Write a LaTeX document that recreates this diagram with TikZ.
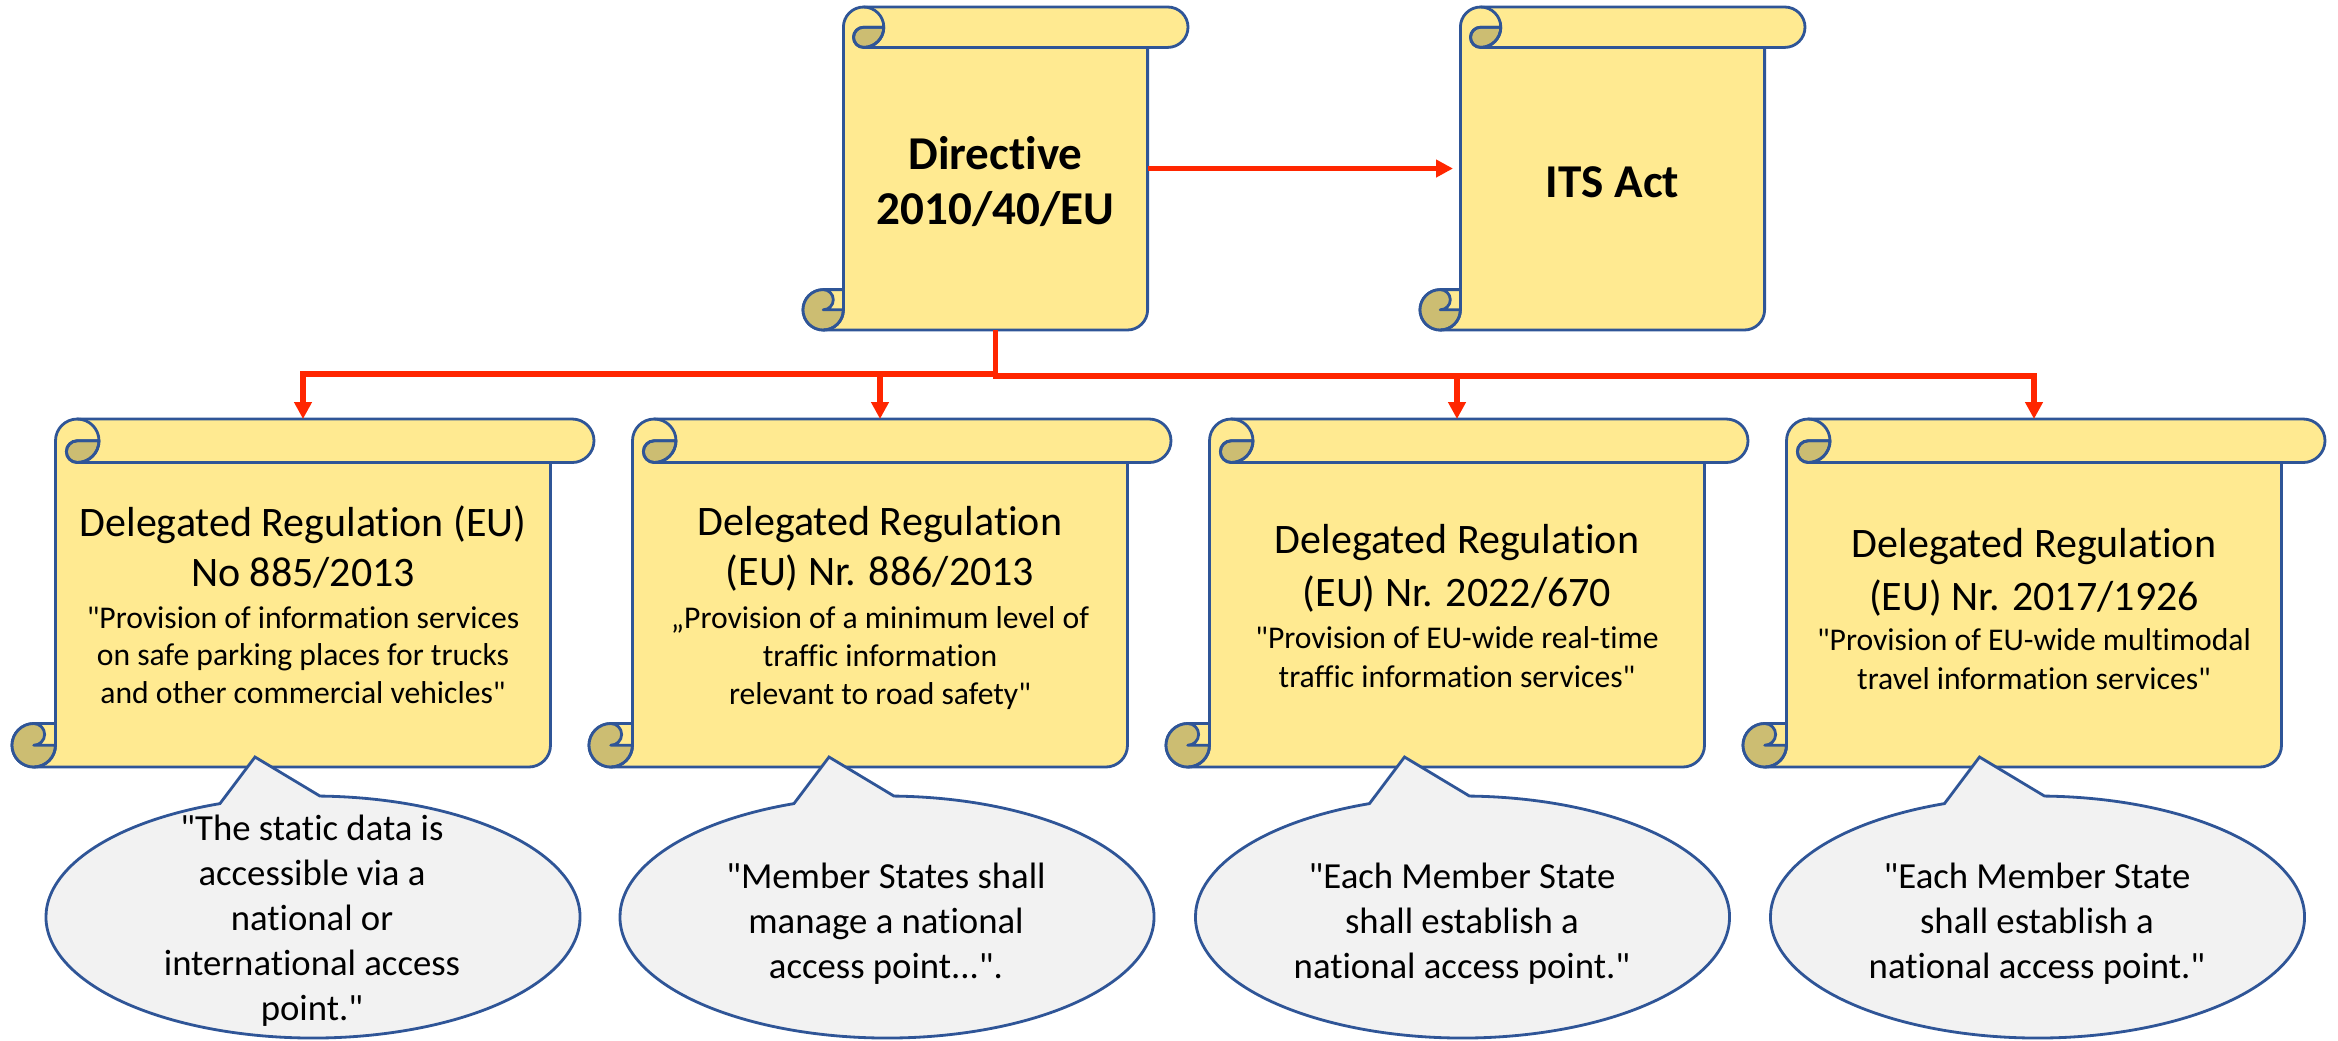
\documentclass[tikz,border=0pt]{standalone}
\usepackage{fontspec}
\newfontfamily\cf{Carlito}[Ligatures=NoCommon]
\usetikzlibrary{arrows.meta,calc}
\definecolor{scrollfill}{RGB}{255,234,145}
\definecolor{curlfill}{RGB}{204,189,114}
\definecolor{edgeblue}{RGB}{47,85,151}
\definecolor{calloutfill}{RGB}{242,242,242}
\definecolor{arrowred}{RGB}{255,38,0}

\tikzset{
  scrollbody/.style={fill=scrollfill, draw=edgeblue, line width=0.8pt, line join=round},
  scrollcurl/.style={fill=curlfill, draw=edgeblue, line width=0.8pt, line join=round},
  scrollline/.style={draw=edgeblue, line width=0.8pt, line cap=round},
  scrollnode/.style={inner sep=0pt, outer sep=0pt},
  bigtitle/.style={font=\cf\bfseries\fontsize{13.4}{15.6}\selectfont, align=center, inner sep=0pt},
  regtitle/.style={font=\cf\fontsize{11.95}{14.2}\selectfont, align=center, inner sep=0pt},
  regtitleb/.style={font=\cf\fontsize{11.95}{15.0}\selectfont, align=center, inner sep=0pt},
  regquote/.style={font=\cf\fontsize{9}{10.7}\selectfont, align=center, inner sep=0pt},
  regquoteb/.style={font=\cf\fontsize{9}{11.1}\selectfont, align=center, inner sep=0pt},
  bubbletext/.style={font=\cf\fontsize{10.45}{12.8}\selectfont, align=center, inner sep=0pt},
  bubble/.style={fill=calloutfill, draw=edgeblue, line width=0.8pt, line join=miter},
  conn/.style={draw=arrowred, line width=1.5pt, -{Triangle[length=1.7mm, width=1.7mm]}},
}

% name, X0, Y0, W, H, c   (pixel coordinates, y downwards)
\newcommand\drawscroll[6]{%
  \pgfmathsetmacro\scXh{#2+#6/2}%
  \pgfmathsetmacro\scXc{#2+#6}%
  \pgfmathsetmacro\scXch{#2+1.5*#6}%
  \pgfmathsetmacro\scXcc{#2+2*#6}%
  \pgfmathsetmacro\scXrh{#2+#4-#6/2}%
  \pgfmathsetmacro\scXrc{#2+#4-#6}%
  \pgfmathsetmacro\scYt{#3}%
  \pgfmathsetmacro\scYh{#3+#6/2}%
  \pgfmathsetmacro\scYc{#3+#6}%
  \pgfmathsetmacro\scYB{#3+#5}%
  \pgfmathsetmacro\scYBh{#3+#5-#6/2}%
  \pgfmathsetmacro\scYBc{#3+#5-#6}%
  \pgfmathsetmacro\scHr{#6/20}%
  \pgfmathsetmacro\scQr{#6/40}%
  \filldraw[scrollbody] (\scXc,\scYBc) -- (\scXc,\scYh)
     arc[start angle=180,end angle=90,radius=\scHr mm] -- (\scXrh,\scYt)
     arc[start angle=90,end angle=-90,radius=\scHr mm] -- (\scXrc,\scYc) -- (\scXrc,\scYBh)
     arc[start angle=0,end angle=-90,radius=\scHr mm] -- (\scXh,\scYB)
     arc[start angle=-90,end angle=-270,radius=\scHr mm] -- cycle;
  \filldraw[scrollcurl] (\scXcc,\scYh) arc[start angle=0,end angle=-90,radius=\scHr mm]
     arc[start angle=-90,end angle=-270,radius=\scQr mm] -- cycle;
  \filldraw[scrollcurl] (\scXc,\scYBh) arc[start angle=0,end angle=-270,radius=\scHr mm]
     arc[start angle=90,end angle=-90,radius=\scQr mm] -- cycle;
  \draw[scrollline] (\scXch,\scYt) arc[start angle=90,end angle=-90,radius=\scHr mm]
     arc[start angle=-90,end angle=-270,radius=\scQr mm] -- (\scXcc,\scYh);
  \draw[scrollline] (\scXrc,\scYc) -- (\scXch,\scYc);
  \draw[scrollline] (\scXh,\scYB) arc[start angle=-90,end angle=0,radius=\scHr mm] -- (\scXc,\scYBc);
  \node[scrollnode, minimum width=#4*0.1mm, minimum height=#5*0.1mm] (#1) at (#2+#4/2, #3+#5/2) {};
}

% centre x, centre y of the ellipse
\newcommand\drawbubble[2]{%
  \filldraw[bubble] (#1-93.05,#2-113.4)
     arc[start angle=110.4,end angle=448.5,x radius=26.7mm,y radius=12.1mm]
     -- (#1-58,#2-160) -- cycle;
}

\begin{document}
\begin{tikzpicture}[x=0.1mm, y=-0.1mm]
\useasboundingbox (0,0) rectangle (2338,1040);
\fill[white] (0,0) rectangle (2338,1040);

% scrolls
\drawscroll{dir}{803}{7}{385}{323}{40.4}
\drawscroll{its}{1420}{7}{385}{323}{40.4}
\drawscroll{r1}{12}{419}{582}{348}{43.5}
\drawscroll{r2}{589}{419}{582}{348}{43.5}
\drawscroll{r3}{1166}{419}{582}{348}{43.5}
\drawscroll{r4}{1743}{419}{582}{348}{43.5}

% scroll texts
\node[bigtitle] (dirtext) at (995.5,181.5) {Directive\\2010/40/EU};
\node[bigtitle] (itstext) at (1612.5,182) {ITS Act};

\node[regtitle] (r1title) at (303,547) {Delegated Regulation (EU)\\No 885/2013};
\node[regquote] (r1quote) at (303,655) {"Provision of information services\\on safe parking places for trucks\\and other commercial vehicles"};

\node[regtitle] (r2title) at (880,549) {Delegated Regulation\\(EU) Nr. 886/2013};
\node[regquote] (r2quote) at (880,658) {„Provision of a minimum level of\\traffic information\\relevant to road safety"};

\node[regtitleb] (r3title) at (1457,568) {Delegated Regulation\\(EU) Nr. 2022/670};
\node[regquoteb] (r3quote) at (1457,657) {"Provision of EU-wide real-time\\traffic information services"};

\node[regtitleb] (r4title) at (2034,572) {Delegated Regulation\\(EU) Nr. 2017/1926};
\node[regquoteb] (r4quote) at (2034,659) {"Provision of EU-wide multimodal\\travel information services"};

% connectors
\draw[conn] ([xshift=-4.04mm]dir.east) -- ([xshift=3.3mm]its.west);
\draw[conn] (dir.south) -- ++(0,44) -| (r1.north);
\draw[conn] (dir.south) -- ++(0,44) -| (r2.north);
\draw[conn] (dir.south) -- ++(0,46) -| (r3.north);
\draw[conn] (dir.south) -- ++(0,46) -| (r4.north);

% callouts
\drawbubble{313}{917}
\drawbubble{887}{917}
\drawbubble{1462.5}{917}
\drawbubble{2037.5}{917}

\node[bubbletext] (c1) at (312,921) {"The static data is\\accessible via a\\national or\\international access\\point."};
\node[bubbletext] (c2) at (886,924) {"Member States shall\\manage a national\\access point...".};
\node[bubbletext] (c3) at (1462,924) {"Each Member State\\shall establish a\\national access point."};
\node[bubbletext] (c4) at (2037,924) {"Each Member State\\shall establish a\\national access point."};
\end{tikzpicture}
\end{document}
